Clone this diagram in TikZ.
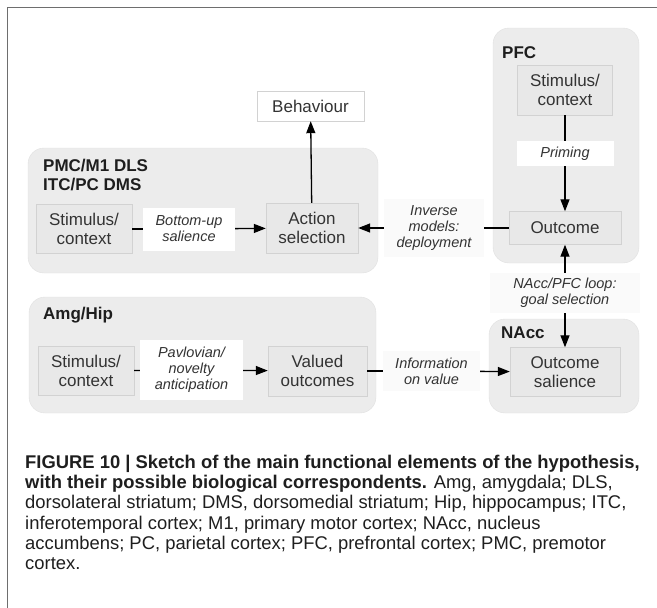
\documentclass[tikz,border=0pt]{standalone}
\usepackage{fontspec}
\setmainfont{Liberation Sans}
\usetikzlibrary{arrows.meta,positioning}
\definecolor{groupfill}{HTML}{ECECEC}
\definecolor{groupline}{HTML}{E0E0E0}
\definecolor{boxfill}{HTML}{E8E8E8}
\definecolor{boxline}{HTML}{D2D2D2}
\definecolor{labelfill}{HTML}{FAFAFA}
\definecolor{framecol}{HTML}{6E6E6E}
\definecolor{txt}{HTML}{333333}
\definecolor{captxt}{HTML}{1E1E1E}
\begin{document}
\begin{tikzpicture}[x=1pt,y=-1pt,
  group/.style={draw=groupline, fill=groupfill, rounded corners=16pt, inner sep=0pt},
  grouplabel/.style={anchor=north west, inner sep=0pt, align=left, text=captxt,
    font=\fontsize{17}{19}\selectfont\bfseries},
  unit/.style={draw=boxline, fill=boxfill, inner sep=0pt, align=center, text=txt,
    font=\fontsize{17}{19.5}\selectfont},
  gate/.style={fill=white, inner sep=0pt, align=center, text=txt,
    font=\fontsize{14.5}{16}\selectfont\itshape},
  passage/.style={gate, fill=labelfill},
  link/.style={draw=black, line width=1.3pt},
  arr/.style={link, -{Triangle[length=12pt,width=9pt]}}
]
\useasboundingbox (0,0) rectangle (657,608);
% frame
\draw[framecol, line width=1.5pt] (7.5,640) -- (7.5,7.5) -- (690,7.5);

% groups
\node[group, minimum width=350pt, minimum height=125pt] (pmc) at (203,210.5) {};
\node[group, minimum width=347pt, minimum height=116pt] (amg) at (202.5,355) {};
\node[group, minimum width=146pt, minimum height=235pt] (pfc) at (566,145.5) {};
\node[group, minimum width=150pt, minimum height=94pt] (nacc) at (564,366) {};
\node[grouplabel] (pmclab) at (43,159) {PMC/M1 DLS\\ITC/PC DMS};
\node[grouplabel] (amglab) at (43,307) {Amg/Hip};
\node[grouplabel] (pfclab) at (502,46) {PFC};
\node[grouplabel] (nacclab) at (501,327) {NAcc};

% PMC row
\node[unit, minimum width=96pt, minimum height=49pt] (stimA) at (84,229) {Stimulus/\\context};
\node[gate, minimum width=92pt, minimum height=43pt] (bu) at (189,229) {Bottom-up\\salience};
\node[unit, minimum width=92pt, minimum height=50pt] (act) at (312,228) {Action\\selection};
\node[unit, fill=white, minimum width=107pt, minimum height=30pt] (beh) at (310.5,106) {Behaviour};

% PFC column
\node[unit, minimum width=95pt, minimum height=50pt] (stimB) at (565,90) {Stimulus/\\context};
\node[gate, minimum width=97pt, minimum height=25pt] (prim) at (565,153.5) {Priming};
\node[unit, minimum width=112pt, minimum height=33pt] (outc) at (565,228) {Outcome};
\node[passage, minimum width=100pt, minimum height=58pt] (inv) at (434,228) {Inverse\\models:\\deployment};
\node[passage, minimum width=150pt, minimum height=40pt] (loop) at (565,293) {NAcc/PFC loop:\\goal selection};

% Amg row
\node[unit, minimum width=96pt, minimum height=49pt] (stimC) at (86,371) {Stimulus/\\context};
\node[gate, minimum width=103pt, minimum height=60pt] (pav) at (191.5,370) {Pavlovian/\\novelty\\anticipation};
\node[unit, minimum width=99pt, minimum height=50pt] (val) at (317.5,371) {Valued\\outcomes};
\node[passage, minimum width=97pt, minimum height=40pt] (info) at (431.5,371) {Information\\on value};
\node[unit, minimum width=110pt, minimum height=49pt] (sal) at (565,372) {Outcome\\salience};

% connectors
\draw[link] (stimA) -- (bu);
\draw[arr] (bu) -- (act);
\draw[arr] (act) -- (beh);
\draw[link] (stimB) -- (prim);
\draw[arr] (prim) -- (outc);
\draw[link] (outc) -- (inv);
\draw[arr] (inv) -- (act);
\draw[arr] (loop) -- (outc);
\draw[arr] (loop) -- (sal);
\draw[link] (stimC) -- (pav);
\draw[arr] (pav) -- (val);
\draw[link] (val) -- (info);
\draw[arr] (info) -- (sal);

% caption
\node[anchor=north west, inner sep=0pt, align=left, text=captxt,
  font=\fontsize{18.4}{20.2}\selectfont] (caption) at (25,455)
  {\textbf{FIGURE 10 | Sketch of the main functional elements of the hypothesis,}\\
   \textbf{with their possible biological correspondents.} Amg, amygdala; DLS,\\
   dorsolateral striatum; DMS, dorsomedial striatum; Hip, hippocampus; ITC,\\
   inferotemporal cortex; M1, primary motor cortex; NAcc, nucleus\\
   accumbens; PC, parietal cortex; PFC, prefrontal cortex; PMC, premotor\\
   cortex.};
\end{tikzpicture}
\end{document}
